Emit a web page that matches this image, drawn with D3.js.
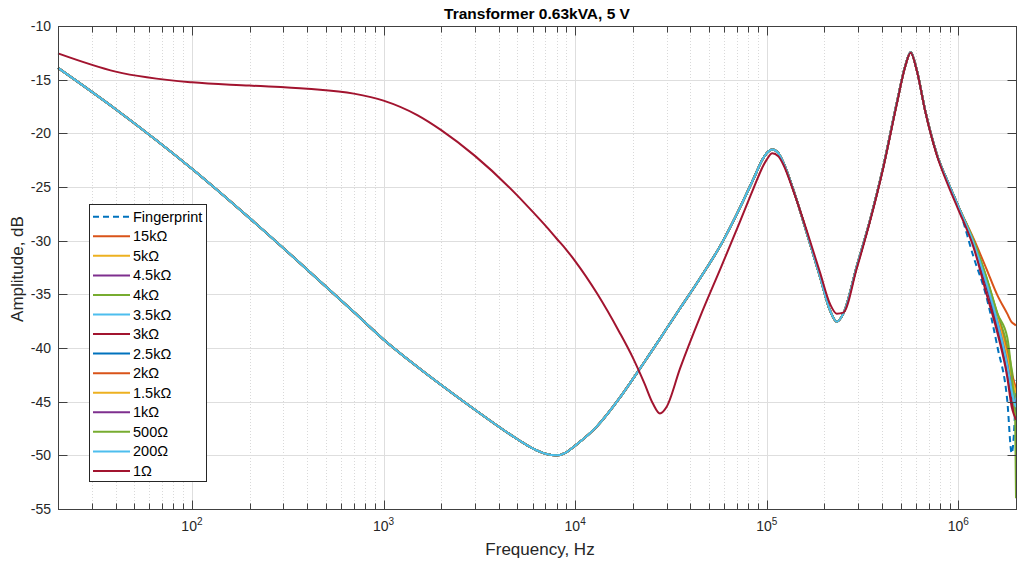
<!DOCTYPE html>
<html>
<head>
<meta charset="utf-8">
<script src="https://cdn.jsdelivr.net/npm/d3@7"></script>
<style>
  html, body { margin: 0; padding: 0; background: #fff; }
  svg { display: block; font-family: "Liberation Sans", Arial, Helvetica, sans-serif; }
</style>
</head>
<body>
<svg id="chart" width="1023" height="567"></svg>
<script>
// frequency grid (Hz) up to 1 MHz, shared by all traces
var freqs = [20, 40, 100, 200, 400, 700, 1e3, 1.5e3, 2e3, 3e3,
  5e3, 6e3, 7e3, 8e3, 9e3, 1e4, 1.3e4, 1.7e4, 2e4, 2.3e4,
  2.55e4, 2.77e4, 3e4, 3.53e4, 4.49e4, 5.8e4, 7.26e4, 8.5e4, 9.6e4, 1e5,
  1.07e5, 1.15e5, 1.22e5, 1.38e5, 1.62e5, 1.9e5, 2.14e5, 2.32e5, 2.51e5, 2.95e5,
  3.46e5, 4.06e5, 4.77e5, 5.27e5, 5.64e5, 6.07e5, 6.7e5, 7.71e5, 8.87e5, 1e6];

// response common to the fingerprint and the 15k..200 ohm terminations
var baseDb = [-13.9, -17.75, -23.3, -27.9, -32.7, -36.65, -39.2, -41.75, -43.45, -45.75,
  -48.5, -49.35, -49.85, -50.0, -49.72, -49.1, -47.3, -44.7, -42.9, -41.3,
  -40.1, -39.15, -38.2, -36.3, -33.5, -30.3, -26.9, -24.3, -22.3, -21.85,
  -21.5, -21.85, -22.7, -25.3, -29.3, -33.4, -36.5, -37.55, -36.8, -32.4,
  -28.1, -23.1, -17.2, -13.8, -12.45, -14.1, -17.8, -21.9, -24.65, -26.8];

// 1 ohm termination
var shortDb = [-12.55, -14.25, -15.25, -15.55, -15.85, -16.3, -16.95, -18.3, -19.7, -22.1,
  -25.8, -27.3, -28.6, -29.8, -30.85, -31.9, -34.9, -38.5, -40.9, -43.3,
  -45.2, -46.1, -45.5, -41.9, -37.1, -32.4, -28.2, -25.2, -23.0, -22.45,
  -21.86, -22.15, -22.9, -25.4, -29.1, -33.0, -35.9, -36.8, -36.7, -32.6,
  -28.2, -23.2, -17.3, -13.85, -12.5, -14.15, -17.85, -22.0, -24.9, -27.1];

// high frequency end, where the traces split
var tailFreqs = [1.2e6, 1.4e6, 1.6e6, 1.8e6, 1.9e6, 1.95e6, 1.98e6, 2e6];
var tailFingerprint = [-31.5, -35.2, -39.9, -44.85, -49.8, -48.0, -45.5, -43.0];
var tail15k  = [-29.8, -32.6, -35.1, -36.8, -37.6, -37.75, -37.85, -37.9];
var tail5k   = [-30.0, -33.5, -37.0, -40.5, -42.5, -43.2, -43.7, -44.0];
var tail4k5  = [-30.1, -33.7, -37.3, -41.0, -43.0, -43.8, -44.4, -44.8];
var tail4k   = [-30.0, -33.4, -36.8, -39.8, -42.0, -43.3, -44.3, -45.0];
var tail3k5  = [-30.2, -33.8, -37.5, -41.3, -43.5, -44.4, -44.9, -45.2];
var tail3k   = [-30.4, -34.3, -38.2, -42.2, -45.0, -45.8, -46.3, -46.7];
var tail2k5  = [-30.3, -34.0, -37.8, -41.8, -44.2, -45.0, -45.6, -46.0];
var tail2k   = [-30.1, -33.6, -37.1, -40.5, -42.5, -43.1, -43.5, -43.8];
var tail1k5  = [-30.1, -33.7, -37.2, -40.8, -42.8, -43.5, -43.9, -44.2];
var tail1k   = [-30.2, -33.9, -37.6, -41.5, -43.8, -44.7, -45.2, -45.5];
var tail500  = [-30.0, -33.4, -36.8, -39.0, -42.5, -44.8, -46.5, -54.0];
var tail200  = [-30.2, -33.9, -37.6, -41.6, -44.0, -44.9, -45.3, -45.5];
var tail1    = [-30.6, -34.9, -38.6, -42.7, -45.5, -46.2, -46.5, -46.7];

var seriesNames = ['Fingerprint', '15k\u03A9', '5k\u03A9', '4.5k\u03A9', '4k\u03A9', '3.5k\u03A9', '3k\u03A9',
  '2.5k\u03A9', '2k\u03A9', '1.5k\u03A9', '1k\u03A9', '500\u03A9', '200\u03A9', '1\u03A9'];
var seriesColors = ['#0072BD', '#D95319', '#EDB120', '#7E2F8E', '#77AC30', '#4DBEEE', '#A2142F',
  '#0072BD', '#D95319', '#EDB120', '#7E2F8E', '#77AC30', '#4DBEEE', '#A2142F'];
var seriesLow = [baseDb, baseDb, baseDb, baseDb, baseDb, baseDb, baseDb,
  baseDb, baseDb, baseDb, baseDb, baseDb, baseDb, shortDb];
var seriesTail = [tailFingerprint, tail15k, tail5k, tail4k5, tail4k, tail3k5, tail3k,
  tail2k5, tail2k, tail1k5, tail1k, tail500, tail200, tail1];

var yTicks = [-55, -50, -45, -40, -35, -30, -25, -20, -15, -10];
var xDecades = [100, 1e3, 1e4, 1e5, 1e6];
var xDecadeExp = ['2', '3', '4', '5', '6'];

var margin = { left: 58, right: 1016, top: 26, bottom: 509 };
var textColor = '#262626';

var svg = d3.select('#chart');

var x = d3.scaleLog().domain([20, 2e6]).range([margin.left, margin.right]);
var y = d3.scaleLinear().domain([-55, -10]).range([margin.bottom, margin.top]);

svg.append('rect').attr('width', 1023).attr('height', 567).attr('fill', '#fff');

// minor ticks of the log axis (2..9 x 10^k)
var minorTicks = [];
for (var k = 1; k <= 6; k++) {
  for (var m = 2; m <= 9; m++) {
    var v = m * Math.pow(10, k);
    if (v > 20 && v < 2e6) minorTicks.push(v);
  }
}

var grid = svg.append('g');
grid.selectAll('line.xminor').data(minorTicks).enter().append('line')
  .attr('x1', function(d) { return Math.round(x(d)) + 0.5; })
  .attr('x2', function(d) { return Math.round(x(d)) + 0.5; })
  .attr('y1', margin.top).attr('y2', margin.bottom)
  .attr('stroke', '#d9d9d9').attr('stroke-width', 1).attr('stroke-dasharray', '1,2');
grid.selectAll('line.xmajor').data(xDecades).enter().append('line')
  .attr('x1', function(d) { return Math.round(x(d)) + 0.5; })
  .attr('x2', function(d) { return Math.round(x(d)) + 0.5; })
  .attr('y1', margin.top).attr('y2', margin.bottom)
  .attr('stroke', '#dedede').attr('stroke-width', 1);
grid.selectAll('line.ymajor').data(yTicks).enter().append('line')
  .attr('x1', margin.left).attr('x2', margin.right)
  .attr('y1', function(d) { return Math.round(y(d)) + 0.5; })
  .attr('y2', function(d) { return Math.round(y(d)) + 0.5; })
  .attr('stroke', '#dedede').attr('stroke-width', 1);

// traces
var line = d3.line()
  .x(function(d) { return x(d[0]); })
  .y(function(d) { return y(d[1]); })
  .curve(d3.curveMonotoneX);

var plot = svg.append('g');
seriesNames.forEach(function(name, i) {
  var pts = freqs.map(function(f, j) { return [f, seriesLow[i][j]]; })
    .concat(tailFreqs.map(function(f, j) { return [f, seriesTail[i][j]]; }));
  plot.append('path')
    .datum(pts)
    .attr('d', line)
    .attr('fill', 'none')
    .attr('stroke', seriesColors[i])
    .attr('stroke-width', 2)
    .attr('stroke-linejoin', 'round')
    .attr('stroke-dasharray', i === 0 ? '6,4' : null);
});

// axes box and inward ticks
var axes = svg.append('g').attr('stroke', '#404040').attr('stroke-width', 1);
axes.append('rect')
  .attr('x', margin.left + 0.5).attr('y', margin.top + 0.5)
  .attr('width', margin.right - margin.left).attr('height', margin.bottom - margin.top)
  .attr('fill', 'none');

function xTick(vals, len) {
  vals.forEach(function(d) {
    var px = Math.round(x(d)) + 0.5;
    axes.append('line').attr('x1', px).attr('x2', px)
      .attr('y1', margin.bottom + 0.5).attr('y2', margin.bottom + 0.5 - len);
    axes.append('line').attr('x1', px).attr('x2', px)
      .attr('y1', margin.top + 0.5).attr('y2', margin.top + 0.5 + len);
  });
}
xTick(minorTicks, 6);
xTick(xDecades, 9);

yTicks.forEach(function(d) {
  var py = Math.round(y(d)) + 0.5;
  axes.append('line').attr('x1', margin.left + 0.5).attr('x2', margin.left + 9.5)
    .attr('y1', py).attr('y2', py);
  axes.append('line').attr('x1', margin.right + 0.5).attr('x2', margin.right - 8.5)
    .attr('y1', py).attr('y2', py);
});

// tick labels
svg.append('g').selectAll('text').data(yTicks).enter().append('text')
  .attr('x', margin.left - 7)
  .attr('y', function(d) { return y(d); })
  .attr('dy', '0.35em')
  .attr('text-anchor', 'end')
  .attr('font-size', 14)
  .attr('fill', textColor)
  .text(function(d) { return d; });

var xl = svg.append('g').selectAll('text').data(xDecades).enter().append('text')
  .attr('x', function(d) { return x(d); })
  .attr('y', 531)
  .attr('text-anchor', 'middle')
  .attr('font-size', 14)
  .attr('fill', textColor);
xl.append('tspan').text('10');
xl.append('tspan').attr('dy', -6).attr('font-size', 10)
  .text(function(d, i) { return xDecadeExp[i]; });

// titles
svg.append('text').attr('x', 537).attr('y', 19).attr('text-anchor', 'middle')
  .attr('font-size', 15.5).attr('font-weight', 'bold').attr('fill', '#000')
  .text('Transformer 0.63kVA, 5 V');
svg.append('text').attr('x', 540).attr('y', 555).attr('text-anchor', 'middle')
  .attr('font-size', 17).attr('fill', textColor)
  .text('Frequency, Hz');
svg.append('text').attr('transform', 'translate(23,269) rotate(-90)')
  .attr('text-anchor', 'middle')
  .attr('font-size', 17).attr('fill', textColor)
  .text('Amplitude, dB');

// legend
var legend = svg.append('g');
legend.append('rect')
  .attr('x', 89.5).attr('y', 204.5).attr('width', 117).attr('height', 277)
  .attr('fill', '#fff').attr('stroke', '#262626').attr('stroke-width', 1);
seriesNames.forEach(function(name, i) {
  var ly = 216.7 + i * 19.56;
  legend.append('line')
    .attr('x1', 93).attr('x2', 130).attr('y1', ly).attr('y2', ly)
    .attr('stroke', seriesColors[i]).attr('stroke-width', 2)
    .attr('stroke-dasharray', i === 0 ? '6,4' : null);
  legend.append('text')
    .attr('x', 133).attr('y', ly).attr('dy', '0.35em')
    .attr('font-size', 14.5).attr('fill', '#000')
    .text(name);
});
</script>
</body>
</html>
